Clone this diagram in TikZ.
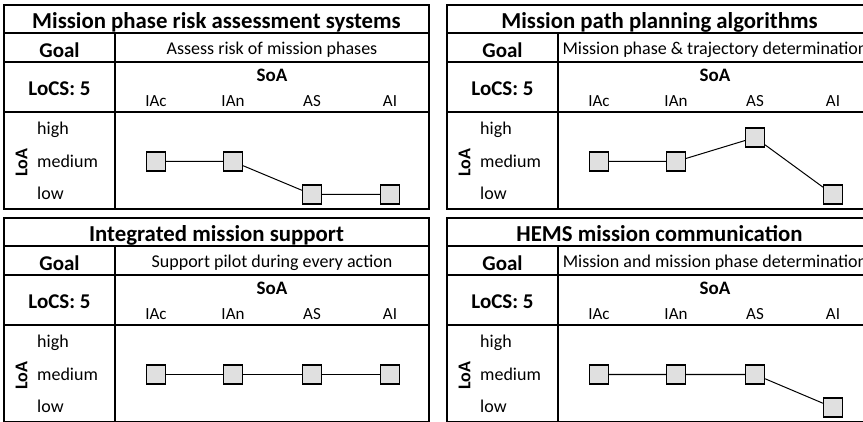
\documentclass[tikz,border=0pt]{standalone}
\usepackage{fontspec}
\setmainfont{Carlito}

\begin{document}
\begin{tikzpicture}[x=1pt,y=-1pt,
        frame/.style={line width=1.6pt},
        rule/.style={line width=1.2pt},
        head/.style={font=\fontsize{21}{24}\selectfont\bfseries,anchor=base},
        txt/.style={font=\fontsize{18}{21}\selectfont,anchor=base},
        col/.style={font=\fontsize{17}{20}\selectfont,anchor=base},
        level/.style={rectangle,draw,line width=1.2pt,fill=black!12,
            minimum size=19pt,inner sep=0pt},
        link/.style={line width=1pt}]
        \useasboundingbox (0,0) rectangle (863,422);

        % frame and fixed labels of the four panels
        \foreach \px/\py/\n in {4/5/r, 447/5/p, 4/218/s, 447/218/c} {
            \begin{scope}[shift={(\px,\py)}]
                \draw[frame] (0,0) rectangle (425,204);
                \draw[rule] (0,28) -- (425,28) (0,57) -- (425,57)
                    (0,107) -- (425,107) (111,28) -- (111,204);
                \node[head] (\n goal) at (55.5,52.3) {Goal};
                \node[head] (\n locs) at (55.5,91) {LoCS: 5};
                \node[txt,font=\fontsize{19}{22}\selectfont\bfseries] (\n soa) at (268,76.7) {SoA};
                \node[col] (\n iac) at (152,101.7) {IAc};
                \node[col] (\n ian) at (229,101.7) {IAn};
                \node[col] (\n as) at (308,101.7) {AS};
                \node[col] (\n ai) at (386,101.7) {AI};
                \node[txt,anchor=base west,inner sep=0pt] (\n high) at (33,130) {high};
                \node[txt,anchor=base west,inner sep=0pt] (\n med) at (33,162.7) {medium};
                \node[txt,anchor=base west,inner sep=0pt] (\n low) at (33,195) {low};
                \node[font=\fontsize{18}{21}\selectfont\bfseries,rotate=90] (\n loa) at (17.5,158) {LoA};
            \end{scope}
        }

        % Mission phase risk assessment systems
        \begin{scope}[shift={(4,5)}]
            \node[head,font=\fontsize{22.8}{26}\selectfont\bfseries] (rtitle) at (212.5,23.3) {Mission phase risk assessment systems};
            \node[txt] (rtask) at (268,50) {Assess risk of mission phases};
            \node[level] (r1) at (152,156.5) {};
            \node[level] (r2) at (229,156.5) {};
            \node[level] (r3) at (308,189.5) {};
            \node[level] (r4) at (386,189.5) {};
            \draw[link] (r1) -- (r2) -- (r3) -- (r4);
        \end{scope}

        % Mission path planning algorithms
        \begin{scope}[shift={(447,5)}]
            \node[head,font=\fontsize{22.8}{26}\selectfont\bfseries] (ptitle) at (212.5,23.3) {Mission path planning algorithms};
            \node[txt] (ptask) at (268,50) {Mission phase \& trajectory determination};
            \node[level] (p1) at (152,156.5) {};
            \node[level] (p2) at (229,156.5) {};
            \node[level] (p3) at (308,132.5) {};
            \node[level] (p4) at (386,189.5) {};
            \draw[link] (p1) -- (p2) -- (p3) -- (p4);
        \end{scope}

        % Integrated mission support
        \begin{scope}[shift={(4,218)}]
            \node[head,font=\fontsize{22.8}{26}\selectfont\bfseries] (stitle) at (212.5,23.3) {Integrated mission support};
            \node[txt] (stask) at (268,50) {Support pilot during every action};
            \node[level] (s1) at (152,156.5) {};
            \node[level] (s2) at (229,156.5) {};
            \node[level] (s3) at (308,156.5) {};
            \node[level] (s4) at (386,156.5) {};
            \draw[link] (s1) -- (s2) -- (s3) -- (s4);
        \end{scope}

        % HEMS mission communication
        \begin{scope}[shift={(447,218)}]
            \node[head,font=\fontsize{22.8}{26}\selectfont\bfseries] (ctitle) at (212.5,23.3) {HEMS mission communication};
            \node[txt] (ctask) at (268,50) {Mission and mission phase determination};
            \node[level] (c1) at (152,156.5) {};
            \node[level] (c2) at (229,156.5) {};
            \node[level] (c3) at (308,156.5) {};
            \node[level] (c4) at (386,189.5) {};
            \draw[link] (c1) -- (c2) -- (c3) -- (c4);
        \end{scope}
    \end{tikzpicture}
\end{document}
